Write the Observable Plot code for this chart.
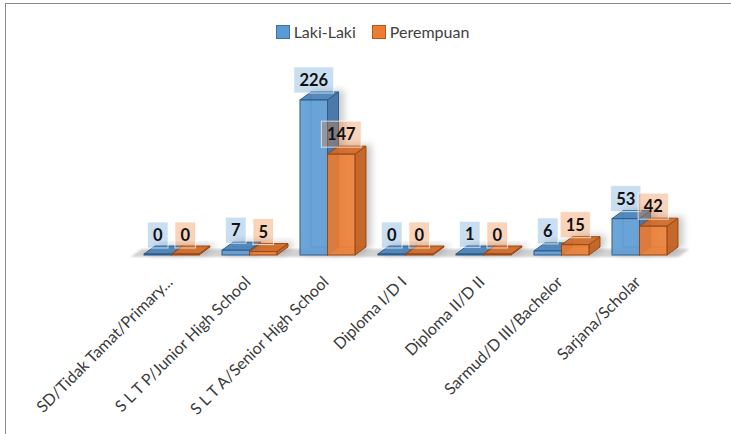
<!DOCTYPE html>
<html>
<head>
<meta charset="utf-8">
<script src="https://cdn.jsdelivr.net/npm/d3@7"></script>
<script src="https://cdn.jsdelivr.net/npm/@observablehq/plot@0.6"></script>
<style>
  body { margin: 0; background: #fff; }
  #wrap { position: relative; width: 731px; height: 434px; overflow: hidden; background: #fff; font-family: Lato, "Open Sans", sans-serif; }
  #frame { position: absolute; left: 5px; top: 3px; width: 760px; height: 460px; border-left: 1px solid #8a8a8a; border-top: 1px solid #8a8a8a; }
  #chart { position: absolute; left: 0; top: 0; }
  #legend { position: absolute; left: 0; top: 22px; width: 745px; display: flex; justify-content: center; align-items: center; font-size: 16px; color: #404040; }
  .item { display: flex; align-items: center; margin: 0 8px; }
  .sw { width: 12px; height: 12px; margin-right: 4px; border: 1px solid; }
</style>
</head>
<body>
<div id="wrap">
  <div id="frame"></div>
  <div id="chart"></div>
  <div id="legend"></div>
</div>
<script>
// ---- data ----
const categories = [
  "SD/Tidak Tamat/Primary...",
  "S L T P/Junior High School",
  "S L T A/Senior High School",
  "Diploma I/D I",
  "Diploma II/D II",
  "Sarmud/D III/Bachelor",
  "Sarjana/Scholar"
];
const seriesNames = ["Laki-Laki", "Perempuan"];
const lakiLaki = [0, 7, 226, 0, 1, 6, 53];
const perempuan = [0, 5, 147, 0, 0, 15, 42];

// ---- styles ----
const palette = {
  "Laki-Laki": {front: "#5b9bd5", side: "#3f72a5", top: "#4a81b9", edge: "#2e5c8a", label: "#5b9bd5", swatchEdge: "#41719c"},
  "Perempuan": {front: "#ed7d31", side: "#c1601f", top: "#cf6a26", edge: "#9a4713", label: "#ed7d31", swatchEdge: "#ae5a21"}
};

const seriesValues = [lakiLaki, perempuan];
const rows = categories.flatMap((c, i) => seriesNames.map((s, j) => ({category: c, series: s, value: seriesValues[j][i]})));

// legend
const legend = d3.select("#legend");
seriesNames.forEach(s => {
  const it = legend.append("div").attr("class", "item");
  it.append("div").attr("class", "sw").style("background", palette[s].front).style("border-color", palette[s].swatchEdge);
  it.append("span").text(s);
});

const DX = 11, DY = -8;
const poly = pts => "M" + pts.map(p => p.join(",")).join("L") + "Z";

function bars3d(index, scales) {
  const x = scales.x, y = scales.y;
  const bw = x.bandwidth();
  const w = bw / seriesNames.length;
  const y0 = y(0);
  const [ra, rb] = x.range();
  const g = d3.create("svg:g");
  const defs = g.append("defs");
  defs.append("filter").attr("id", "shd").attr("x", "-50%").attr("y", "-50%").attr("width", "200%").attr("height", "200%")
    .append("feDropShadow").attr("dx", 5).attr("dy", -1).attr("stdDeviation", 3.5)
    .attr("flood-color", "#000").attr("flood-opacity", 0.22);
  defs.append("filter").attr("id", "fblur").append("feGaussianBlur").attr("stdDeviation", 0.9);

  // floor
  g.append("path")
    .attr("d", poly([[ra - 2, y0 + 2], [rb, y0 + 2], [rb + DX, y0 + 2 + DY], [ra - 2 + DX, y0 + 2 + DY]]))
    .attr("fill", "#d3d3d3").attr("filter", "url(#fblur)");

  // bars
  rows.forEach(r => {
    const j = seriesNames.indexOf(r.series);
    const c = palette[r.series];
    const x0 = x(r.category) + j * w, x1 = x0 + w;
    const yb = y0, yt = Math.min(y(r.value), y0 - 1);
    const bg = g.append("g").attr("filter", "url(#shd)");
    bg.append("path")
      .attr("d", `M${x0 + DX},${yt + DY}L${x0 + DX},${yb + DY}L${x1 + DX},${yb + DY}`)
      .attr("fill", "none").attr("stroke", c.edge).attr("stroke-opacity", 0.7);
    bg.append("path").attr("d", poly([[x1, yb], [x1 + DX, yb + DY], [x1 + DX, yt + DY], [x1, yt]]))
      .attr("fill", c.side).attr("fill-opacity", 0.92).attr("stroke", c.edge).attr("stroke-linejoin", "round");
    bg.append("path").attr("d", poly([[x0, yt], [x1, yt], [x1 + DX, yt + DY], [x0 + DX, yt + DY]]))
      .attr("fill", c.top).attr("fill-opacity", 0.92).attr("stroke", c.edge).attr("stroke-linejoin", "round");
    bg.append("rect").attr("x", x0).attr("y", yt).attr("width", w).attr("height", yb - yt)
      .attr("fill", c.front).attr("fill-opacity", 0.88).attr("stroke", c.edge);
  });

  // data labels
  rows.forEach(r => {
    const j = seriesNames.indexOf(r.series);
    const c = palette[r.series];
    const cx = x(r.category) + j * w + w / 2;
    const cy = y(r.value) - 20;
    const txt = String(r.value);
    const bwid = 11 + 9.6 * txt.length;
    g.append("rect").attr("x", cx - bwid / 2).attr("y", cy - 13).attr("width", bwid).attr("height", 26)
      .attr("fill", c.label).attr("fill-opacity", 0.33)
      .attr("stroke", "#fff").attr("stroke-opacity", 0.7);
    g.append("text").attr("x", cx).attr("y", cy).attr("dy", "0.36em")
      .attr("text-anchor", "middle").attr("font-weight", "bold").attr("font-size", 16.5)
      .attr("fill", "#111").text(txt);
  });
  return g.node();
}

const chart = Plot.plot({
  width: 731,
  height: 434,
  marginLeft: 132.5,
  marginRight: 52.5,
  marginTop: 83.5,
  marginBottom: 179,
  style: {fontFamily: "Lato, 'Open Sans', sans-serif", background: "transparent", overflow: "visible"},
  x: {type: "band", domain: categories, paddingInner: 0.295, paddingOuter: 0.1475, label: null},
  y: {domain: [0, 250], axis: null},
  marks: [
    Plot.tickY(rows, {x: "category", y: "value", strokeOpacity: 0}),
    bars3d,
    Plot.axisX({tickRotate: -45, tickSize: 0, tickPadding: 24, dx: -2, fontSize: 16, color: "#3a3a3a", label: null})
  ]
});
document.getElementById("chart").appendChild(chart);
</script>
</body>
</html>
